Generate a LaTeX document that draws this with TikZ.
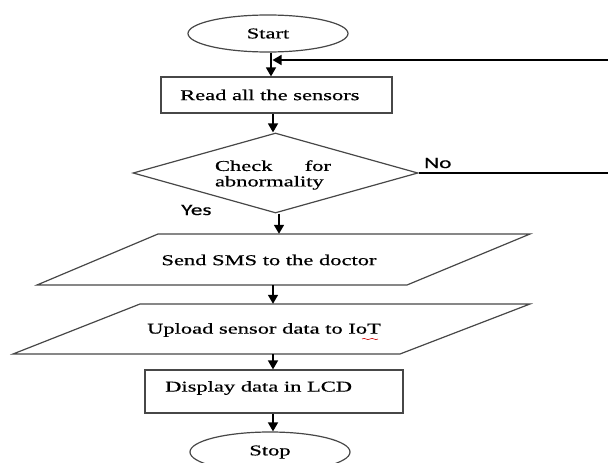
\documentclass[tikz,border=0pt]{standalone}
\usepackage{fontspec}
\setmainfont[FakeStretch=1.5,FakeBold=0.6]{Liberation Serif}
\newfontfamily\lblfont[FakeStretch=1.45,FakeBold=0.5]{Carlito}
\usetikzlibrary{arrows.meta,shapes.geometric}
\begin{document}
\begin{tikzpicture}[x=1pt,y=-1pt,
  outline/.style={draw=black!72, line width=1.2pt},
  arr/.style={draw=black, line width=1.5pt, -{Triangle[width=10pt,length=9pt]}},
  conn/.style={draw=black, line width=1.5pt},
  txt/.style={font=\fontsize{15}{15.5}\selectfont, inner sep=0pt, text=black},
  lbl/.style={font=\lblfont\fontsize{16}{16}\selectfont, inner sep=0pt, text=black}]
\useasboundingbox (0,0) rectangle (608,463);

% column coordinates for the vertical connectors
\coordinate (c1) at (271,0);
\coordinate (c2) at (273,0);
\coordinate (c3) at (279,0);

% shapes
\node[ellipse, outline, minimum width=160pt, minimum height=37pt, txt] (start) at (268,33.5) {Start};
\node[outline, minimum width=231pt, minimum height=36pt, inner sep=0pt] (read) at (276.5,95) {};
\node[txt, anchor=west] (readt) at (180,95) {Read all the sensors};

\node[diamond, outline, minimum width=285pt, minimum height=80pt, inner sep=0pt] (chk) at (275.5,173) {};
\node[txt, align=left, text width=116pt] (chkt) at (273,175) {\makebox[116pt][l]{Check\hfill for}\\abnormality};

\draw[outline] (158,234) -- (530,234) -- (407,285) -- (37,285) -- cycle;
\node[minimum width=249pt, minimum height=51pt, inner sep=0pt] (sms) at (283,259.5) {};
\node[txt] (smst) at (269,260) {Send SMS to the doctor};

\draw[outline] (140,304) -- (530,304) -- (400,354) -- (13,354) -- cycle;
\node[minimum width=260pt, minimum height=50pt, inner sep=0pt] (upl) at (271,329) {};
\node[txt] (uplt) at (264,330) {Upload sensor data to IoT};
\draw[red!80!black, line width=0.6pt] (362,339) .. controls (365,337) and (367,341) .. (370,339) .. controls (373,337) and (375,341) .. (378,339);

\node[outline, minimum width=258pt, minimum height=43pt, inner sep=0pt] (disp) at (274,391.5) {};
\node[txt, anchor=west] (dispt) at (165,388) {Display data in LCD};

\node[ellipse, outline, minimum width=160pt, minimum height=40pt, txt] (stop) at (270,452) {Stop};

% labels
\node[lbl, anchor=west] (no) at (424,163) {No};
\node[lbl, anchor=west] (yes) at (181,210) {Yes};

% connectors
\coordinate (fbR) at (608,60);
\coordinate (fbL) at (272.5,60);
\coordinate (noR) at (608,173);

\draw[arr] (start.south -| c1) -- (read.north -| c1);
\draw[arr] (fbR) -- (fbL);
\draw[arr] (read.south -| c2) -- (chk.north -| c2);
\draw[arr] (chk.south -| c3) -- (sms.north -| c3);
\draw[arr] (sms.south -| c2) -- (upl.north -| c2);
\draw[arr] (upl.south -| c2) -- (disp.north -| c2);
\draw[arr] (disp.south -| c2) -- (stop.north -| c2);
\draw[conn] (chk.east) -- (noR);
\end{tikzpicture}
\end{document}
